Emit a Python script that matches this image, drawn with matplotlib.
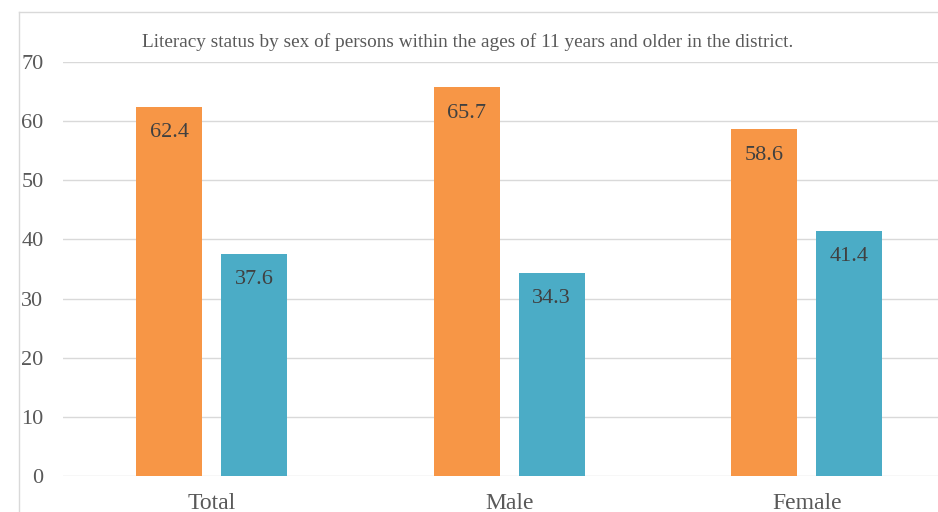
import matplotlib
matplotlib.use("Agg")
import matplotlib.pyplot as plt
from matplotlib.lines import Line2D
import numpy as np

categories = ["Total", "Male", "Female"]
literate = [62.4, 65.7, 58.6]
illiterate = [37.6, 34.3, 41.4]
yticks = [0, 10, 20, 30, 40, 50, 60, 70]
title = "Literacy status by sex of persons within the ages of 11 years and older in the district."

plt.rcParams['font.family'] = ['Liberation Serif', 'DejaVu Serif']
W, H = 938, 512
fig = plt.figure(figsize=(W / 100, H / 100), dpi=100)

# axes spanning x 63..955.5 px, y 62..476 px (from top)
x0, x1 = 63, 955.5
ytop, ybot = 62, 476
ax = fig.add_axes([x0 / W, 1 - ybot / H, (x1 - x0) / W, (ybot - ytop) / H])

x = np.arange(len(categories))
bw = 0.222
off = 0.143
orange = "#F79646"
teal = "#4BACC6"
b1 = ax.bar(x - off, literate, bw, color=orange, zorder=3)
b2 = ax.bar(x + off, illiterate, bw, color=teal, zorder=3)

for bars, vals in ((b1, literate), (b2, illiterate)):
    for r, v in zip(bars, vals):
        ax.annotate(f"{v}", (r.get_x() + r.get_width() / 2, v), xytext=(0, -18.5),
                    textcoords="offset points", ha="center", va="center",
                    fontsize=16, color="#404040", zorder=4)

ax.set_xlim(-0.5, 2.5)
ax.set_ylim(0, 70)
ax.set_yticks(yticks)
ax.set_xticks(x)
ax.set_xticklabels(categories)
ax.grid(axis="y", color="#D9D9D9", linewidth=1, zorder=0)
for s in ax.spines.values():
    s.set_visible(False)
ax.tick_params(axis="y", length=0, labelsize=16, labelcolor="#595959", pad=14)
ax.tick_params(axis="x", length=0, labelsize=17, labelcolor="#595959", pad=12)

fig.text(468 / W, 1 - 42 / H, title, ha="center", va="center", fontsize=13.9, color="#595959")

# outer chart frame (left and top edges visible)
fx, fy = 19 / W, 1 - 12 / H
fig.add_artist(Line2D([fx, fx], [0, fy], color="#D9D9D9", linewidth=1, transform=fig.transFigure))
fig.add_artist(Line2D([fx, 1], [fy, fy], color="#D9D9D9", linewidth=1, transform=fig.transFigure))

fig.savefig("out.png", dpi=100)
